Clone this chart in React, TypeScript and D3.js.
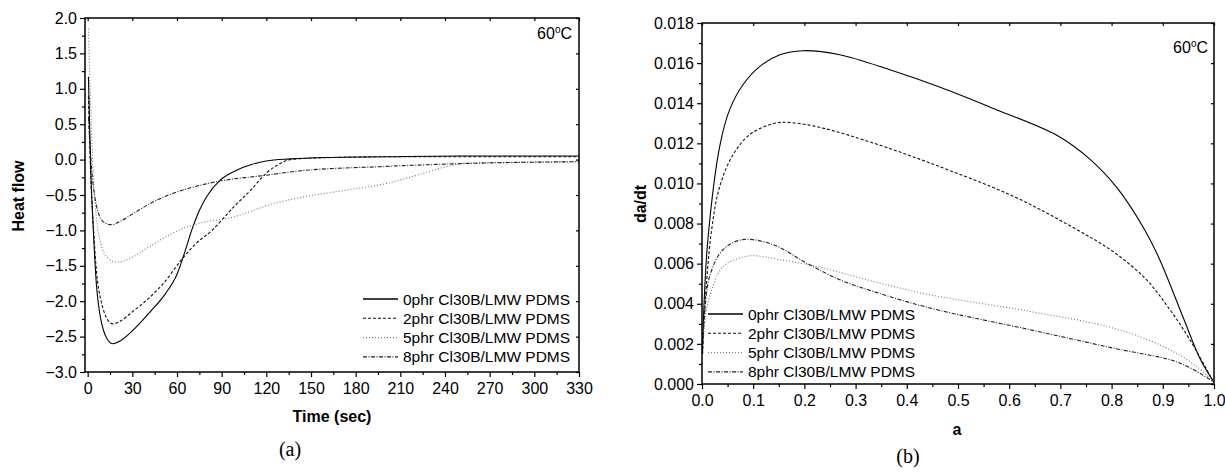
import React, { useEffect, useRef } from "react";
import * as d3 from "d3";

// panel (a): heat flow vs time (sec)
const timeSolid = [0.5, 2, 3.8, 6, 8.3, 10.6, 13, 17, 22, 30, 42, 52, 60, 65, 70, 75, 80, 89, 100, 110, 120, 136, 160, 200, 250, 330];
const heat0 = [1.17, -0.1, -1.0, -1.8, -2.2, -2.41, -2.53, -2.6, -2.56, -2.42, -2.15, -1.9, -1.62, -1.32, -0.99, -0.72, -0.52, -0.29, -0.15, -0.07, -0.02, 0.01, 0.03, 0.04, 0.05, 0.05];
const time2 = [0.5, 2, 4, 6, 8.5, 11, 14, 17, 22, 30, 42, 52, 62, 72, 84, 98, 110, 120, 128, 136, 150, 200, 330];
const heat2 = [0.9, -0.2, -1.0, -1.6, -1.95, -2.15, -2.28, -2.32, -2.28, -2.15, -1.94, -1.72, -1.44, -1.2, -0.99, -0.67, -0.42, -0.19, -0.07, 0.0, 0.02, 0.04, 0.04];
const time5 = [0.5, 2, 4, 6, 9, 13, 20, 28, 40, 50, 62, 75, 98, 125, 142, 174, 200, 218, 241, 254, 280, 330];
const heat5 = [1.85, 0.8, -0.3, -0.85, -1.2, -1.38, -1.45, -1.4, -1.25, -1.12, -0.99, -0.9, -0.81, -0.62, -0.54, -0.43, -0.34, -0.24, -0.1, -0.05, -0.04, -0.03];
const time8 = [0.5, 2.5, 5, 8, 12, 16, 22, 30, 42, 52, 64, 87, 120, 142, 196, 263, 330];
const heat8 = [0.6, -0.1, -0.55, -0.8, -0.9, -0.92, -0.87, -0.77, -0.62, -0.52, -0.43, -0.31, -0.22, -0.16, -0.1, -0.05, -0.03];

// panel (b): da/dt vs a
const conv0 = [0.001, 0.004, 0.0117, 0.0346, 0.054, 0.08, 0.113, 0.152, 0.197, 0.269, 0.367, 0.464, 0.575, 0.693, 0.758, 0.81, 0.862, 0.894, 0.94, 0.973, 0.999];
const rate0 = [0.0015, 0.004, 0.00727, 0.01185, 0.01368, 0.01492, 0.01584, 0.01642, 0.01662, 0.01642, 0.01567, 0.01481, 0.01368, 0.0124, 0.0112, 0.0098, 0.0078, 0.0062, 0.0033, 0.00125, 0.00013];
const conv2 = [0.001, 0.006, 0.018, 0.0346, 0.0606, 0.093, 0.139, 0.171, 0.236, 0.334, 0.445, 0.608, 0.725, 0.803, 0.868, 0.914, 0.953, 0.999];
const rate2 = [0.0015, 0.004, 0.00753, 0.00985, 0.01143, 0.01243, 0.01298, 0.01304, 0.01276, 0.01202, 0.01102, 0.00936, 0.0078, 0.0066, 0.0052, 0.0037, 0.0022, 0.0001];
const conv5 = [0.001, 0.005, 0.015, 0.041, 0.074, 0.0997, 0.152, 0.224, 0.334, 0.445, 0.64, 0.803, 0.901, 0.966, 0.999];
const rate5 = [0.002, 0.003, 0.00437, 0.00586, 0.00628, 0.0064, 0.0062, 0.00586, 0.00512, 0.00445, 0.00362, 0.00279, 0.00187, 0.00088, 0.0001];
const conv8 = [0.001, 0.005, 0.015, 0.041, 0.08, 0.139, 0.204, 0.269, 0.334, 0.445, 0.64, 0.803, 0.933, 0.999];
const rate8 = [0.002, 0.0035, 0.00537, 0.0067, 0.0072, 0.00695, 0.00603, 0.0052, 0.00462, 0.00379, 0.00271, 0.00179, 0.00105, 0.0001];

const seriesNames = [
  "0phr Cl30B/LMW PDMS",
  "2phr Cl30B/LMW PDMS",
  "5phr Cl30B/LMW PDMS",
  "8phr Cl30B/LMW PDMS",
];
const styles = [
  { stroke: "#000", dash: null, width: 1.1 },
  { stroke: "#111", dash: "3,2", width: 1.1 },
  { stroke: "#777", dash: "1,2", width: 1.1 },
  { stroke: "#222", dash: "4,1.5,1,1.5", width: 1.1 },
];

const sans = "Arial, 'Liberation Sans', Helvetica, sans-serif";
const serif = "'Times New Roman', 'Liberation Serif', serif";

function drawPanel(svg, cfg) {
  const { x, y, xMajor, xMinor, yMajor, yMinor, xFmt, yFmt, series, curve } = cfg;
  const [x0, x1] = x.range();
  const [y0, y1] = y.range();
  const g = svg.append("g");

  series.forEach((s, i) => {
    const pts = s.xs.map((v, k) => [v, s.ys[k]]);
    const line = d3
      .line()
      .x((d) => x(d[0]))
      .y((d) => y(d[1]))
      .curve(curve);
    g.append("path")
      .attr("d", line(pts))
      .attr("fill", "none")
      .attr("stroke", styles[i].stroke)
      .attr("stroke-width", styles[i].width)
      .attr("stroke-dasharray", styles[i].dash);
  });

  const noLabel = () => "";
  const dropDomain = (a) => a.select(".domain").remove();

  // bottom axis
  g.append("g")
    .attr("transform", `translate(0,${y0})`)
    .call(d3.axisBottom(x).tickValues(xMinor).tickSize(3).tickFormat(noLabel))
    .call(dropDomain);
  g.append("g")
    .attr("transform", `translate(0,${y0})`)
    .call(d3.axisBottom(x).tickValues(xMajor).tickSize(5).tickPadding(6).tickFormat(xFmt))
    .call(dropDomain);

  // left axis
  g.append("g")
    .attr("transform", `translate(${x0},0)`)
    .call(d3.axisLeft(y).tickValues(yMinor).tickSize(3).tickFormat(noLabel))
    .call(dropDomain);
  g.append("g")
    .attr("transform", `translate(${x0},0)`)
    .call(d3.axisLeft(y).tickValues(yMajor).tickSize(5).tickPadding(3).tickFormat(yFmt))
    .call(dropDomain);

  // mirrored top/right ticks, inward
  g.append("g")
    .attr("transform", `translate(0,${y1})`)
    .call(d3.axisBottom(x).tickValues(xMajor).tickSize(3).tickFormat(noLabel))
    .call(dropDomain);
  g.append("g")
    .attr("transform", `translate(${x1},0)`)
    .call(d3.axisLeft(y).tickValues(yMajor).tickSize(3).tickFormat(noLabel))
    .call(dropDomain);

  g.selectAll(".tick line").attr("stroke", "#000").attr("stroke-width", 1.2);
  g.selectAll(".tick text")
    .attr("fill", "#000")
    .style("font-family", sans)
    .style("font-size", "16px");

  g.append("rect")
    .attr("x", x0)
    .attr("y", y1)
    .attr("width", x1 - x0)
    .attr("height", y0 - y1)
    .attr("fill", "none")
    .attr("stroke", "#000")
    .attr("stroke-width", 1.5);

  // legend
  const lg = g.append("g");
  seriesNames.forEach((name, i) => {
    const cy = cfg.legendY + i * cfg.legendStep;
    lg.append("line")
      .attr("x1", cfg.legendX)
      .attr("x2", cfg.legendX + 35)
      .attr("y1", cy)
      .attr("y2", cy)
      .attr("stroke", styles[i].stroke)
      .attr("stroke-width", i === 0 ? 1.4 : 1.1)
      .attr("stroke-dasharray", styles[i].dash);
    lg.append("text")
      .attr("x", cfg.legendX + 40)
      .attr("y", cy + 5.5)
      .style("font-family", sans)
      .style("font-size", "15.5px")
      .text(name);
  });

  // temperature tag
  const t = g
    .append("text")
    .attr("x", cfg.tagX)
    .attr("y", cfg.tagY)
    .attr("text-anchor", "end")
    .style("font-family", sans)
    .style("font-size", "16px");
  t.append("tspan").text("60");
  t.append("tspan").attr("dy", -6).style("font-size", "10px").text("o");
  t.append("tspan").attr("dy", 6).text("C");
}

const App = () => {
  const svgRef = useRef();

  useEffect(() => {
    const svg = d3.select(svgRef.current);
    svg.selectAll("*").remove();

    const xa = d3.scaleLinear().domain([-1.8, 330]).range([85, 579]);
    const ya = d3.scaleLinear().domain([-3, 2]).range([372, 18]);
    drawPanel(svg, {
      x: xa,
      y: ya,
      xMajor: d3.range(0, 331, 30),
      xMinor: d3.range(15, 331, 30),
      yMajor: d3.range(-3, 2.01, 0.5),
      yMinor: d3.range(-2.75, 2, 0.5),
      xFmt: d3.format("d"),
      yFmt: d3.format(".1f"),
      curve: d3.curveMonotoneX,
      series: [
        { xs: timeSolid, ys: heat0 },
        { xs: time2, ys: heat2 },
        { xs: time5, ys: heat5 },
        { xs: time8, ys: heat8 },
      ],
      legendX: 363,
      legendY: 299,
      legendStep: 19.3,
      tagX: 572,
      tagY: 39,
    });

    const xb = d3.scaleLinear().domain([0, 1]).range([702, 1214]);
    const yb = d3.scaleLinear().domain([0, 0.018]).range([384, 23]);
    drawPanel(svg, {
      x: xb,
      y: yb,
      xMajor: d3.range(0, 1.01, 0.1),
      xMinor: d3.range(0.05, 1, 0.1),
      yMajor: d3.range(0, 0.01801, 0.002),
      yMinor: d3.range(0.001, 0.018, 0.002),
      xFmt: d3.format(".1f"),
      yFmt: d3.format(".3f"),
      curve: d3.curveCatmullRom.alpha(0.5),
      series: [
        { xs: conv0, ys: rate0 },
        { xs: conv2, ys: rate2 },
        { xs: conv5, ys: rate5 },
        { xs: conv8, ys: rate8 },
      ],
      legendX: 708,
      legendY: 314,
      legendStep: 19.3,
      tagX: 1208,
      tagY: 53,
    });

    // axis titles
    const bold = (x, y, txt, rot) =>
      svg
        .append("text")
        .attr("transform", `translate(${x},${y})${rot ? " rotate(-90)" : ""}`)
        .attr("text-anchor", "middle")
        .style("font-family", sans)
        .style("font-size", "16px")
        .style("font-weight", "bold")
        .text(txt);
    bold(24, 196, "Heat flow", true);
    bold(332, 422, "Time (sec)", false);
    bold(646, 204, "da/dt", true);
    bold(957, 435, "a", false);

    const cap = (x, y, txt) =>
      svg
        .append("text")
        .attr("x", x)
        .attr("y", y)
        .attr("text-anchor", "middle")
        .style("font-family", serif)
        .style("font-size", "20px")
        .text(txt);
    cap(290, 456, "(a)");
    cap(908, 463, "(b)");
  }, []);

  return (
    <svg
      ref={svgRef}
      width={1225}
      height={472}
      style={{ position: "absolute", left: 0, top: 0, background: "#fff" }}
    ></svg>
  );
};

export default App;
